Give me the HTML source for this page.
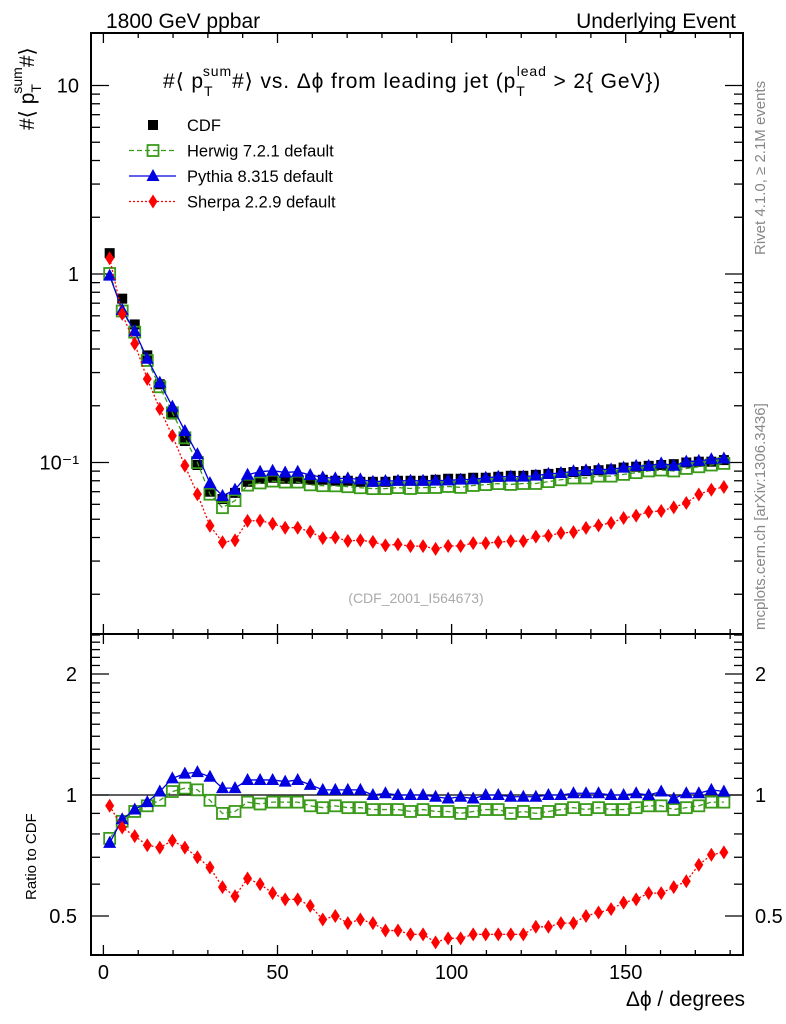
<!DOCTYPE html>
<html><head><meta charset="utf-8"><style>
body{margin:0;background:#fff;}
svg{display:block;font-family:"Liberation Sans",sans-serif;}
</style></head><body>
<svg id="chart" width="786" height="1024" viewBox="0 0 786 1024" xmlns="http://www.w3.org/2000/svg">
<text x="106" y="28" font-size="21">1800 GeV ppbar</text>
<text x="736" y="28" font-size="21" text-anchor="end">Underlying Event</text>
<text x="163" y="88" font-size="21" letter-spacing="0.9">#⟨ p<tspan font-size="14" dy="8">T</tspan><tspan font-size="14" dx="-9" dy="-20">sum</tspan><tspan dy="12">#⟩ vs. Δϕ from leading jet  (p</tspan><tspan font-size="14" dy="8">T</tspan><tspan font-size="14" dx="-9" dy="-20">lead</tspan><tspan dy="12"> &gt; 2{ GeV})</tspan></text>
<text transform="translate(34,130) rotate(-90)" font-size="21">#⟨ p<tspan font-size="14" dy="7">T</tspan><tspan font-size="14" dx="-8" dy="-19">sum</tspan><tspan dy="12">#⟩</tspan></text>
<text transform="translate(36,900) rotate(-90)" font-size="15">Ratio to CDF</text>
<text x="745" y="1006" font-size="21" text-anchor="end">Δϕ / degrees</text>
<text transform="translate(765,255) rotate(-90)" font-size="15" fill="#888">Rivet 4.1.0, ≥ 2.1M events</text>
<text transform="translate(765,630) rotate(-90)" font-size="15" fill="#888">mcplots.cern.ch [arXiv:1306.3436]</text>
<text x="416" y="603" font-size="14" fill="#aaa" text-anchor="middle">(CDF_2001_I564673)</text>
<g id="legend"></g>
<g id="axes"></g>
<g id="marks"></g>
</svg>
<script>
const xCenters=[1.8,5.4,9,12.6,16.2,19.8,23.4,27,30.6,34.2,37.8,41.4,45,48.6,52.2,55.8,59.4,63,66.6,70.2,73.8,77.4,81,84.6,88.2,91.8,95.4,99,102.6,106.2,109.8,113.4,117,120.6,124.2,127.8,131.4,135,138.6,142.2,145.8,149.4,153,156.6,160.2,163.8,167.4,171,174.6,178.2];
const cdfValues=[1.29,0.74,0.54,0.37,0.26,0.18,0.13,0.097,0.070,0.064,0.069,0.079,0.082,0.083,0.082,0.082,0.081,0.081,0.080,0.080,0.079,0.079,0.079,0.080,0.080,0.080,0.081,0.082,0.082,0.083,0.083,0.084,0.085,0.085,0.086,0.087,0.088,0.089,0.090,0.091,0.092,0.094,0.095,0.096,0.097,0.098,0.100,0.101,0.101,0.103];
const herwigRatio=[0.78,0.86,0.91,0.94,0.97,1.02,1.04,1.03,0.97,0.90,0.91,0.96,0.95,0.96,0.96,0.96,0.94,0.93,0.94,0.93,0.93,0.92,0.92,0.92,0.91,0.92,0.91,0.91,0.90,0.91,0.92,0.92,0.90,0.91,0.90,0.91,0.92,0.93,0.92,0.93,0.92,0.92,0.93,0.94,0.94,0.92,0.93,0.94,0.96,0.96];
const pythiaRatio=[0.76,0.87,0.92,0.96,1.02,1.10,1.13,1.14,1.11,1.04,1.04,1.09,1.09,1.09,1.08,1.09,1.06,1.03,1.03,1.03,1.03,1.00,1.01,1.00,1.00,1.00,0.99,0.98,0.99,0.98,1.00,1.00,0.99,0.99,0.99,1.00,1.00,1.01,1.01,1.01,1.00,1.00,1.01,1.00,1.02,0.98,1.01,1.01,1.03,1.02];
const sherpaRatio=[0.94,0.83,0.79,0.75,0.74,0.77,0.74,0.70,0.66,0.59,0.56,0.62,0.60,0.57,0.55,0.55,0.53,0.49,0.50,0.48,0.49,0.48,0.46,0.46,0.45,0.45,0.43,0.44,0.44,0.45,0.45,0.45,0.45,0.45,0.47,0.47,0.48,0.48,0.50,0.51,0.52,0.54,0.55,0.57,0.57,0.59,0.61,0.67,0.71,0.72];
const xTicks=[0,50,100,150];
const mainTicks=[10,1,0.1];
const mainTickLabels=["10","1","10⁻¹"];
const ratioTicks=[2,1,0.5];
const ratioTickLabels=["2","1","0.5"];

const NS="http://www.w3.org/2000/svg";
const L=91,R=743,T=33,MID=634,B=955;
const X=v=>103.4+v*3.482;
const Y=v=>274-188.5*Math.log10(v);
const YR=v=>795-121*Math.log2(v);
function mk(tag,attrs,parent){const e=document.createElementNS(NS,tag);for(const k in attrs)e.setAttribute(k,attrs[k]);parent.appendChild(e);return e;}
const axes=document.getElementById('axes'),marks=document.getElementById('marks'),legend=document.getElementById('legend');

let f1=mk('rect',{x:L,y:T,width:R-L,height:MID-T,fill:'none',stroke:'#000','stroke-width':2},axes);


let f2=mk('rect',{x:L,y:MID,width:R-L,height:B-MID,fill:'none',stroke:'#000','stroke-width':2},axes);


let ref=mk('line',{x1:L,x2:R,y1:YR(1),y2:YR(1),stroke:'#000','stroke-width':1.3},axes);



for(let v=0;v<=180;v+=10){
  const major=v%50===0, len=major?10:5, x=X(v);
  for(const [y0,d] of [[T,1],[MID,-1],[MID,1],[B,-1]]){
    mk('line',{x1:x,x2:x,y1:y0,y2:y0+d*len,stroke:'#000','stroke-width':1.3},axes);
  }
}
xTicks.forEach(v=>{
  const t=mk('text',{x:X(v),y:B+24,'font-size':20,'text-anchor':'middle'},axes);
  t.textContent=v;
  
  
});
for(let d=-2;d<=1;d++){for(let m=1;m<=9;m++){const v=m*Math.pow(10,d),y=Y(v);if(y<T||y>MID)continue;const len=m===1?18:9;
  mk('line',{x1:L,x2:L+len,y1:y,y2:y,stroke:'#000','stroke-width':1.3},axes);
  mk('line',{x1:R,x2:R-len,y1:y,y2:y,stroke:'#000','stroke-width':1.3},axes);}}
mainTicks.forEach((v,i)=>{
  const t=mk('text',{x:L-12,y:Y(v)+7,'font-size':20,'text-anchor':'end'},axes);
  t.textContent=mainTickLabels[i];
  
  
});
[0.4,0.5,0.6,0.7,0.8,0.9,1,1.1,1.2,1.3,1.4,1.5,1.6,1.7,1.8,1.9,2,2.1,2.2,2.3,2.4,2.5].forEach(v=>{const y=YR(v);if(y<MID||y>B)return;
  const len=(v===0.5||v===1||v===2)?18:9;
  mk('line',{x1:L,x2:L+len,y1:y,y2:y,stroke:'#000','stroke-width':1.3},axes);
  mk('line',{x1:R,x2:R-len,y1:y,y2:y,stroke:'#000','stroke-width':1.3},axes);});
ratioTicks.forEach((v,i)=>{
  for(const [x,a] of [[L-14,'end'],[R+12,'start']]){
    const t=mk('text',{x:x,y:YR(v)+7,'font-size':20,'text-anchor':a},axes);
    t.textContent=ratioTickLabels[i];
    
    
  }
});

function marker(type,x,y,parent,color){
  if(type==='square') return mk('rect',{x:x-5,y:y-5,width:10,height:10,fill:'#000'},parent);
  if(type==='open') return mk('rect',{x:x-5.5,y:y-5.5,width:11,height:11,fill:'none',stroke:color,'stroke-width':1.8},parent);
  if(type==='tri') return mk('polygon',{points:`${x},${y-7} ${x-6.5},${y+5} ${x+6.5},${y+5}`,fill:color},parent);
  return mk('polygon',{points:`${x},${y-7} ${x-4.5},${y} ${x},${y+7} ${x+4.5},${y}`,fill:color},parent);
}
const series=[
  {name:'herwig',ratio:herwigRatio,color:'#3a9a1a',type:'open',dash:'5,3'},
  {name:'pythia',ratio:pythiaRatio,color:'#0000e0',type:'tri',dash:''},
  {name:'sherpa',ratio:sherpaRatio,color:'#ff0000',type:'dia',dash:'2,2'}
];
const gc=mk('g',{},marks);


xCenters.forEach((xv,i)=>{const m=marker('square',X(xv),Y(cdfValues[i]),gc);
  
  });
series.forEach(s=>{
  for(const panel of ['main','ratio']){
    const g=mk('g',{},marks);
    
    
    const pts=xCenters.map((xv,i)=>[X(xv),panel==='main'?Y(cdfValues[i]*s.ratio[i]):YR(s.ratio[i])]);
    mk('polyline',{points:pts.map(p=>p.join(',')).join(' '),fill:'none',stroke:s.color,'stroke-width':1.3,'stroke-dasharray':s.dash},g);
    pts.forEach(p=>{const m=marker(s.type,p[0],p[1],g,s.color);
      
      });
  }
});
const legItems=[['CDF','square','#000',''],['Herwig 7.2.1 default','open','#3a9a1a','5,3'],['Pythia 8.315 default','tri','#0000e0',''],['Sherpa 2.2.9 default','dia','#ff0000','2,2']];
legItems.forEach((it,i)=>{
  const y=125+i*25.5;
  const g=mk('g',{},legend);
  
  
  if(i>0) mk('line',{x1:129,x2:176,y1:y,y2:y,stroke:it[2],'stroke-width':1.3,'stroke-dasharray':it[3]},g);
  marker(it[1],153,y,g,it[2]);
  const t=mk('text',{x:187,y:y+6,'font-size':16.5},g);
  t.textContent=it[0];
});
</script>
</body></html>
